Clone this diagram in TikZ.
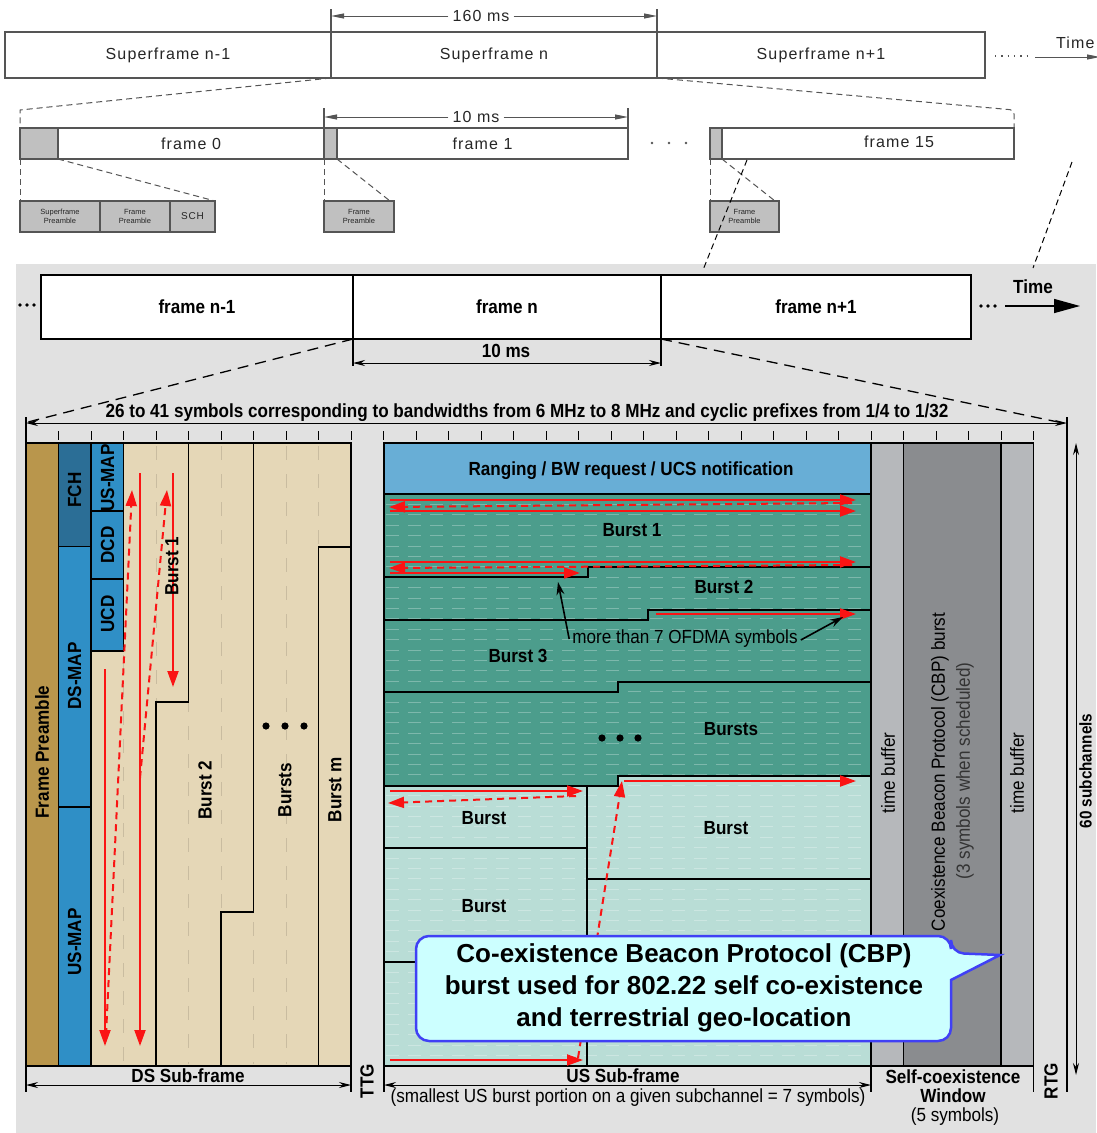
\documentclass[tikz,border=0pt]{standalone}
\usepackage{fontspec}
\setmainfont{Liberation Sans}
\newfontfamily\narrowfont{Liberation Sans}[FakeStretch=0.9]
\newfontfamily\spacedfont{Liberation Sans}[LetterSpace=7]
\usetikzlibrary{arrows.meta}
\definecolor{bggrey}{RGB}{225,225,225}
\definecolor{topline}{RGB}{85,85,85}
\definecolor{pregrey}{RGB}{192,192,192}
\definecolor{fpre}{RGB}{185,150,76}
\definecolor{fch}{RGB}{43,110,150}
\definecolor{mapblue}{RGB}{47,143,198}
\definecolor{beige}{RGB}{229,215,183}
\definecolor{ranging}{RGB}{104,174,214}
\definecolor{burstgreen}{RGB}{76,157,140}
\definecolor{lightteal}{RGB}{185,221,214}
\definecolor{tbuf}{RGB}{182,184,187}
\definecolor{cbp}{RGB}{138,140,143}
\definecolor{arrred}{RGB}{250,20,20}
\definecolor{calfill}{RGB}{204,255,255}
\definecolor{calline}{RGB}{64,64,245}
\tikzset{
  topbox/.style={draw=topline, line width=1.3pt, rectangle, inner sep=0pt, outer sep=0pt, anchor=north west},
  toptxt/.style={font=\spacedfont\fontsize{16}{18}\selectfont, text=black!85},
  tinytxt/.style={font=\fontsize{7.5}{8.5}\selectfont, align=center, text=black!85},
  topdash/.style={draw=topline, line width=1pt, dash pattern=on 6pt off 4pt},
  bigbox/.style={draw=black, line width=2pt, fill=white, rectangle, inner sep=0pt, outer sep=0pt, anchor=north west},
  blbl/.style={font=\narrowfont\bfseries\fontsize{19}{21}\selectfont, inner sep=0pt},
  rlbl/.style={font=\narrowfont\fontsize{19}{21}\selectfont, inner sep=0pt},
  bline/.style={draw=black, line width=1.8pt},
  redsolid/.style={draw=arrred, line width=2pt, -{Triangle[length=16pt,width=11pt]}},
  reddash/.style={redsolid, dash pattern=on 7pt off 5pt},
  blkarrow/.style={draw=black, line width=1.6pt, -{Stealth[length=13pt,width=8pt]}},
  dim/.style={draw=black, line width=1pt},
  dimarrows/.style={dim, {Stealth[length=12pt,width=6pt]}-{Stealth[length=12pt,width=6pt]}},
  toparrow/.style={draw=topline, line width=1pt, -{Triangle[length=13pt,width=5pt]}},
}
\begin{document}
\begin{tikzpicture}[x=1pt,y=-1pt]
\useasboundingbox (0,0) rectangle (1096,1133);
\fill[white] (0,0) rectangle (1096,1133);
\fill[bggrey] (16,264) rectangle (1096,1133);

% ---------------- top: superframes
\node[topbox, toptxt, minimum width=326pt, minimum height=46pt] (sf1) at (5,32) {Superframe n-1};
\node[topbox, toptxt, minimum width=326pt, minimum height=46pt] (sf2) at (331,32) {Superframe n};
\node[topbox, toptxt, minimum width=328pt, minimum height=46pt] (sf3) at (657,32) {Superframe n+1};
\coordinate (b160l) at (331,9);
\coordinate (b160r) at (657,9);
\draw[topline, line width=1.3pt] (b160l) -- (sf2.north west);
\draw[topline, line width=1.3pt] (b160r) -- (sf3.north west);
\coordinate (t160l) at (331,16);
\coordinate (t160r) at (657,16);
\node[toptxt, fill=white, inner sep=4pt] (ms160) at (481,16) {160 ms};
\draw[toparrow] (ms160.west) -- (t160l);
\draw[toparrow] (ms160.east) -- (t160r);
\coordinate (dd1) at (995,56);
\coordinate (dd2) at (1030,56);
\draw[topline, line width=1.3pt, dash pattern=on 1.3pt off 5pt] (dd1) -- (dd2);
\coordinate (ta1) at (1035,57);
\coordinate (ta2) at (1100,57);
\draw[toparrow] (ta1) -- (ta2);
\node[toptxt, anchor=west, inner sep=0pt] (ttop) at (1056,43) {Time};
\coordinate (zl) at (20,110);
\coordinate (zr) at (1014,110);

% ---------------- top: frames
\node[topbox, fill=pregrey, minimum width=38pt, minimum height=31pt] (f0p) at (20,128) {};
\node[topbox, toptxt, minimum width=266pt, minimum height=31pt] (f0) at (58,128) {frame 0};
\node[topbox, fill=pregrey, minimum width=13pt, minimum height=31pt] (f1p) at (324,128) {};
\node[topbox, toptxt, minimum width=291pt, minimum height=31pt] (f1) at (337,128) {frame 1};
\node[topbox, fill=pregrey, minimum width=12pt, minimum height=31pt] (f15p) at (710,128) {};
\node[topbox, minimum width=292pt, minimum height=31pt] (f15) at (722,128) {};
\node[toptxt] (f15t) at (899,142) {frame 15};
\foreach \x in {652,669,686} \fill[topline] (\x,143) circle (1.3pt);
\draw[topdash] (sf2.south west) -- (zl) -- (f0p.north west);
\draw[topdash, rounded corners=4pt] (sf3.south west) -- (zr) -- (f15.north east);

\coordinate (b10l) at (324,108);
\coordinate (b10r) at (628,108);
\draw[topline, line width=1.3pt] (b10l) -- (f1p.north west);
\draw[topline, line width=1.3pt] (b10r) -- (f1.north east);
\coordinate (t10l) at (324,117);
\coordinate (t10r) at (628,117);
\node[toptxt, fill=white, inner sep=4pt] (ms10) at (476,117) {10 ms};
\draw[toparrow] (ms10.west) -- (t10l);
\draw[toparrow] (ms10.east) -- (t10r);

% ---------------- top: preamble boxes
\node[topbox, fill=pregrey, minimum width=80pt, minimum height=31pt, tinytxt] (spp) at (20,201) {Superframe\\Preamble};
\node[topbox, fill=pregrey, minimum width=70pt, minimum height=31pt, tinytxt] (fp0) at (100,201) {Frame\\Preamble};
\node[topbox, fill=pregrey, minimum width=45pt, minimum height=31pt, font=\spacedfont\fontsize{10}{11}\selectfont, text=black!85] (sch) at (170,201) {SCH};
\node[topbox, fill=pregrey, minimum width=70pt, minimum height=31pt, tinytxt] (fp1) at (324,201) {Frame\\Preamble};
\node[topbox, fill=pregrey, minimum width=69pt, minimum height=31pt, tinytxt] (fp15) at (710,201) {Frame\\Preamble};
\coordinate (fp1e) at (390,201);
\coordinate (fp15e) at (775,201);
\draw[topdash] (f0p.south west) -- (spp.north west);
\draw[topdash] (f0p.south east) -- (sch.north east);
\draw[topdash] (f1p.south west) -- (fp1.north west);
\draw[topdash] (f1p.south east) -- (fp1e);
\draw[topdash] (f15p.south west) -- (fp15.north west);
\draw[topdash] (f15p.south east) -- (fp15e);
\coordinate (la1) at (747,160);
\coordinate (la2) at (703,270);
\coordinate (lb1) at (1072,162);
\coordinate (lb2) at (1033,268);
\draw[topdash, draw=black] (la1) -- (la2);
\draw[topdash, draw=black] (lb1) -- (lb2);

% ---------------- lower frames
\node[bigbox, blbl, minimum width=312pt, minimum height=64pt] (fa) at (41,275) {frame n-1};
\node[bigbox, blbl, minimum width=308pt, minimum height=64pt] (fb) at (353,275) {frame n};
\node[bigbox, blbl, minimum width=310pt, minimum height=64pt] (fc) at (661,275) {frame n+1};
\foreach \x in {20,27,34} \fill (\x,305) circle (1.8pt);
\foreach \x in {981,988,995} \fill (\x,306) circle (1.8pt);
\coordinate (tb1) at (1005,306);
\coordinate (tb2) at (1080,306);
\draw[line width=1.5pt, -{Triangle[length=26pt,width=14pt]}] (tb1) -- (tb2);
\node[blbl] (tlow) at (1033,287) {Time};
\coordinate (m10l) at (353,366);
\coordinate (m10r) at (661,366);
\draw[dim, line width=1.3pt] (fb.south west) -- (m10l);
\draw[dim, line width=1.3pt] (fb.south east) -- (m10r);
\coordinate (a10l) at (353,363);
\coordinate (a10r) at (661,363);
\draw[dimarrows] (a10l) -- (a10r);
\node[blbl] (ms10b) at (506,351) {10 ms};
\coordinate (sl) at (28,422);
\coordinate (sr) at (1058,422);
\draw[line width=1.3pt, dash pattern=on 11pt off 7pt] (fb.south west) -- (sl);
\draw[line width=1.3pt, dash pattern=on 11pt off 7pt] (fb.south east) -- (sr);

% ---------------- symbol dimension + ticks
\coordinate (dl) at (26,423);
\coordinate (dr) at (1067,423);
\draw[dimarrows] (dl) -- (dr);
\node[blbl] (symtxt) at (527,413) {26 to 41 symbols corresponding to bandwidths from 6 MHz to 8 MHz and cyclic prefixes from 1/4 to 1/32};
\draw[dim, line width=1.3pt] (26,417) -- (26,443);
\draw[dim, line width=1.3pt] (1067,417) -- (1067,1092);
\foreach \i in {1,...,10} \draw[dim] ({26+32.5*\i},431) -- ({26+32.5*\i},440);
\foreach \i in {0,...,20} \draw[dim] ({383.5+32.5*\i},431) -- ({383.5+32.5*\i},440);

% ---------------- DS sub-frame
\fill[beige] (91,443) rectangle (351,1066);
\fill[fpre] (26,443) rectangle (58.5,1066);
\fill[fch] (58.5,443) rectangle (91,546.5);
\fill[mapblue] (58.5,546.5) rectangle (91,1066);
\fill[mapblue] (91,443) rectangle (123.5,651);
\foreach \x in {156,188.5,221,253.5,286,318.5}
  \draw[black, opacity=0.12, line width=1pt, dash pattern=on 14pt off 14pt] (\x,446) -- (\x,1064);
\draw[black, opacity=0.12, line width=1pt, dash pattern=on 14pt off 14pt] (123.5,655) -- (123.5,1064);
\draw[bline] (58.5,443) -- (58.5,1066);
\draw[bline] (91,443) -- (91,1066);
\draw[bline] (58.5,546.5) -- (91,546.5);
\draw[bline] (58.5,807) -- (91,807);
\draw[bline] (91,511) -- (123.5,511);
\draw[bline] (91,579) -- (123.5,579);
\draw[bline] (91,651) -- (123.5,651) -- (123.5,443);
\draw[bline] (188.5,443) -- (188.5,702) -- (156,702) -- (156,1066);
\draw[bline] (253.5,443) -- (253.5,912) -- (221,912) -- (221,1066);
\draw[bline] (318.5,1066) -- (318.5,547) -- (351,547);
\draw[bline] (26,443) rectangle (351,1066);

% DS red arrows
\draw[redsolid] (105,669) -- (105,1046);
\draw[reddash] (106,1035) -- (132,490);
\draw[redsolid] (140,473) -- (140,1046);
\draw[reddash] (140,778) -- (167,490);
\draw[redsolid] (173,473) -- (173,687);

\node[blbl, rotate=90] (tfp) at (42,752) {Frame Preamble};
\node[blbl, rotate=90] (tfch) at (74.5,490) {FCH};
\node[blbl, rotate=90] (tdsmap) at (74.5,676) {DS-MAP};
\node[blbl, rotate=90] (tusmap) at (74.5,942) {US-MAP};
\node[blbl, rotate=90] (tusmap2) at (107.5,478) {US-MAP};
\node[blbl, rotate=90] (tdcd) at (107.5,545) {DCD};
\node[blbl, rotate=90] (tucd) at (107.5,614) {UCD};
\node[blbl, rotate=90] (tb1l) at (172,566) {Burst 1};
\node[blbl, rotate=90] (tb2l) at (205,790) {Burst 2};
\node[blbl, rotate=90] (tbsl) at (285,790) {Bursts};
\node[blbl, rotate=90] (tbml) at (335,790) {Burst m};
\foreach \x in {266,285,304} \fill (\x,726) circle (3.6pt);

% ---------------- US sub-frame
\fill[lightteal] (384,443) rectangle (871,1066);
\fill[burstgreen] (384,494) -- (871,494) -- (871,776) -- (618,776) -- (618,786) -- (384,786) -- cycle;
\fill[ranging] (384,443) rectangle (871,494);
\foreach \k in {1,...,54}
  \draw[white, opacity=0.28, line width=1pt, dash pattern=on 13pt off 9pt] (386,{494+10.4*\k}) -- (869,{494+10.4*\k});
\fill[tbuf] (871,443) rectangle (903.5,1066);
\fill[cbp] (903.5,443) rectangle (1001,1066);
\fill[tbuf] (1001,443) rectangle (1033.5,1066);
\draw[bline] (384,494) -- (871,494);
\draw[bline] (384,577) -- (588,577) -- (588,567) -- (871,567);
\draw[bline] (384,620) -- (648,620) -- (648,610) -- (871,610);
\draw[bline] (384,692) -- (618,692) -- (618,682) -- (871,682);
\draw[bline] (384,786) -- (618,786) -- (618,776) -- (871,776);
\draw[bline] (587,786) -- (587,1066);
\draw[bline] (384,848) -- (587,848);
\draw[bline] (384,962) -- (587,962);
\draw[bline] (587,879) -- (871,879);
\draw[bline] (871,443) -- (871,1066);
\draw[bline] (903.5,443) -- (903.5,1066);
\draw[bline] (1001,443) -- (1001,1066);
\draw[bline] (384,443) rectangle (1033.5,1066);

\node[blbl] (trng) at (631,471) {Ranging / BW request / UCS notification};
\node[blbl] (tub1) at (632,530) {Burst 1};
\node[blbl] (tub2) at (724,587) {Burst 2};
\node[blbl] (tub3) at (518,656) {Burst 3};
\node[blbl] (tubs) at (731,729) {Bursts};
\node[blbl] (tub4) at (484,818) {Burst};
\node[blbl] (tub5) at (726,828) {Burst};
\node[blbl] (tub6) at (484,906) {Burst};
\foreach \x in {602,620,638} \fill (\x,738) circle (3.6pt);

% US red arrows
\draw[redsolid] (390,500) -- (856,500);
\draw[reddash] (852,503) -- (389,507);
\draw[redsolid] (390,511) -- (856,511);
\draw[redsolid] (390,562) -- (856,562);
\draw[reddash] (852,565) -- (389,568);
\draw[redsolid] (390,573) -- (580,573);
\draw[redsolid] (656,614) -- (856,614);
\draw[redsolid] (390,791) -- (583,791);
\draw[reddash] (576,796) -- (388,803);
\draw[redsolid] (624,781) -- (856,781);
\draw[reddash] (578,1058) -- (622,781);
\draw[redsolid] (390,1060) -- (583,1060);

\node[rlbl] (tmore) at (685,639) {more than 7 OFDMA symbols};
\coordinate (ma1) at (558,582);
\coordinate (ma2) at (843,617);
\draw[blkarrow] (tmore.west) ++(-3,0) -- (ma1);
\draw[blkarrow] (tmore.east) ++(3,1) -- (ma2);

\node[rlbl, rotate=90] (ttb1) at (888,773) {time buffer};
\node[rlbl, rotate=90] (tcbp) at (940,772) {Coexistence Beacon Protocol (CBP) burst};
\node[rlbl, rotate=90, text=black!80] (tcbp2) at (965,771) {(3 symbols when scheduled)};
\node[rlbl, rotate=90] (ttb2) at (1017,773) {time buffer};

% callout
\draw[calline, fill=calfill, line width=2.5pt, rounded corners=13pt]
  (951,980) -- (951,1041) -- (416,1041) -- (416,936) -- (951,936) -- (951,953) [sharp corners] -- (1000,955) -- cycle;
\node[font=\bfseries\fontsize{26}{32}\selectfont, align=center, inner sep=0pt] (calltxt) at (684,988)
  {Co-existence Beacon Protocol (CBP)\\burst used for 802.22 self co-existence\\and terrestrial geo-location};

% ---------------- bottom labels
\coordinate (dsb1) at (26,1092);
\coordinate (dsb2) at (351,1092);
\draw[dim, line width=1.3pt] (26,1066) -- (dsb1);
\draw[dim, line width=1.3pt] (351,1066) -- (dsb2);
\coordinate (dsa1) at (26,1085);
\coordinate (dsa2) at (351,1085);
\draw[dimarrows] (dsa1) -- (dsa2);
\node[blbl] (tds) at (188,1076) {DS Sub-frame};
\node[blbl, rotate=90] (tttg) at (367,1081) {TTG};
\coordinate (usb1) at (384,1092);
\coordinate (usb2) at (871,1092);
\draw[dim, line width=1.3pt] (384,1066) -- (usb1);
\draw[dim, line width=1.3pt] (871,1066) -- (usb2);
\coordinate (usa1) at (384,1085);
\coordinate (usa2) at (871,1085);
\draw[dimarrows] (usa1) -- (usa2);
\node[blbl] (tus) at (623,1076) {US Sub-frame};
\node[rlbl] (tus2) at (628,1098) {(smallest US burst portion on a given subchannel = 7 symbols)};
\node[blbl] (tsc1) at (953,1077) {Self-coexistence};
\node[blbl] (tsc2) at (953,1096) {Window};
\node[rlbl] (tsc3) at (955,1117) {(5 symbols)};
\draw[dim, line width=1.3pt] (1033.5,1066) -- (1033.5,1092);
\node[blbl, rotate=90] (trtg) at (1051,1081) {RTG};
\coordinate (sc1) at (1076,443);
\coordinate (sc2) at (1076,1075);
\draw[dimarrows] (sc1) -- (sc2);
\node[font=\narrowfont\bfseries\fontsize{17}{19}\selectfont, inner sep=0pt, rotate=90] (tsub) at (1085.5,771) {60 subchannels};
\end{tikzpicture}
\end{document}
